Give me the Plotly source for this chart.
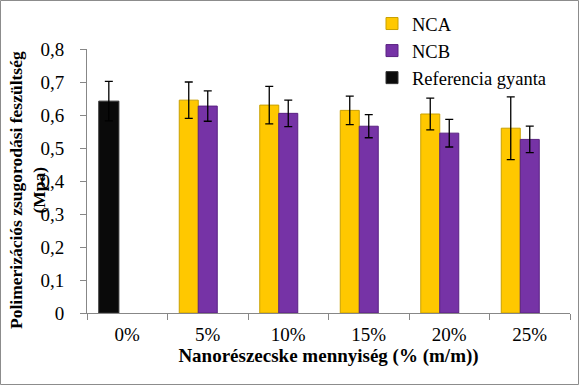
import plotly.graph_objects as go

categories = ["0%", "5%", "10%", "15%", "20%", "25%"]
nca_values = [None, 0.645, 0.630, 0.614, 0.603, 0.560]
nca_errors = [None, 0.055, 0.057, 0.043, 0.048, 0.095]
ncb_values = [None, 0.627, 0.605, 0.566, 0.545, 0.526]
ncb_errors = [None, 0.046, 0.040, 0.035, 0.042, 0.040]
ref_values = [0.642, None, None, None, None, None]
ref_errors = [0.060, None, None, None, None, None]
y_ticks = [0, 0.1, 0.2, 0.3, 0.4, 0.5, 0.6, 0.7, 0.8]
y_ticktext = ["0", "0,1", "0,2", "0,3", "0,4", "0,5", "0,6", "0,7", "0,8"]

FONT = "Liberation Serif, Times New Roman, serif"
W, H = 579, 385
L, R, T, B = 87, 9, 49, 72
pw, ph = W - L - R, H - T - B

bw = 0.236
err_style = dict(type="data", visible=True, color="black", thickness=1.3, width=4)

fig = go.Figure()
fig.add_trace(go.Bar(
    x=categories, y=nca_values, name="NCA", legendgroup="a",
    offset=-0.354, width=bw,
    marker=dict(color="#FFC800", line=dict(color="#C9A000", width=1)),
    error_y=dict(array=nca_errors, **err_style),
))
fig.add_trace(go.Bar(
    x=categories, y=ncb_values, name="NCB", legendgroup="b",
    offset=-0.118, width=bw,
    marker=dict(color="#7633A6", line=dict(color="#5A2282", width=1)),
    error_y=dict(array=ncb_errors, **err_style),
))
fig.add_trace(go.Bar(
    x=categories, y=ref_values, name="Referencia gyanta", legendgroup="c",
    offset=-0.354, width=0.25,
    marker=dict(color="#0A0A0A", line=dict(color="#333333", width=1)),
    error_y=dict(array=ref_errors, **err_style),
))

fig.update_layout(
    width=W, height=H,
    margin=dict(l=L, r=R, t=T, b=B, autoexpand=False),
    paper_bgcolor="white", plot_bgcolor="white",
    barmode="overlay",
    font=dict(family=FONT, size=19, color="black"),
    showlegend=True,
    legend=dict(
        x=(372 - L) / pw, y=(H - 5 - B) / ph, xanchor="left", yanchor="top",
        bgcolor="rgba(255,255,255,0)", font=dict(family=FONT, size=18.5, color="black"),
        tracegroupgap=0, itemwidth=30,
    ),
    xaxis=dict(
        type="category", showline=True, linecolor="#878787", linewidth=1,
        ticks="outside", tickson="boundaries", ticklen=6, tickcolor="#878787",
        tickfont=dict(family=FONT, size=19, color="black"),
        ticklabelstandoff=4,
        title=dict(text="<b>Nanorészecske mennyiség (% (m/m))</b>",
                   font=dict(family=FONT, size=19, color="black"), standoff=1),
        showgrid=False,
    ),
    yaxis=dict(
        range=[0, 0.8], tickvals=y_ticks, ticktext=y_ticktext,
        showline=True, linecolor="#878787", linewidth=1,
        ticks="outside", ticklen=6, tickcolor="#878787",
        tickfont=dict(family=FONT, size=19, color="black"),
        ticklabelstandoff=12,
        showgrid=False, zeroline=False,
    ),
    annotations=[dict(
        text="<b>Polimerizációs zsugorodási feszültség<br>(Mpa)</b>",
        xref="paper", yref="paper", x=(27 - L) / pw, y=(H - B - 190) / ph,
        xanchor="center", yanchor="middle", textangle=-90, showarrow=False,
        font=dict(family=FONT, size=17.5, color="black"),
    )],
    shapes=[dict(
        type="rect", xref="paper", yref="paper",
        x0=(0.5 - L) / pw, x1=(W - 0.5 - L) / pw,
        y0=(H - B - (H - 0.5)) / ph, y1=(H - B - 0.5) / ph,
        line=dict(color="#8C8C8C", width=1), fillcolor="rgba(0,0,0,0)",
        layer="below",
    )],
)

fig.write_html("out.html", config={"displayModeBar": False},
               post_script="document.body.style.margin='0px';")
